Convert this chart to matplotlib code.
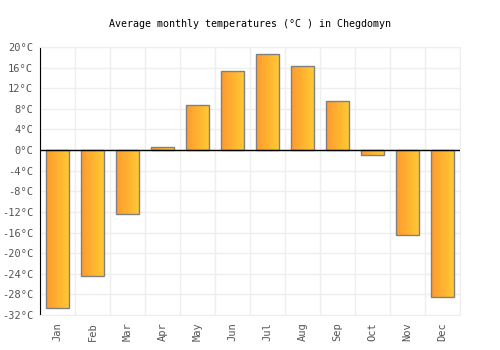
import numpy as np
import matplotlib.pyplot as plt
from matplotlib.colors import LinearSegmentedColormap

months = ['Jan', 'Feb', 'Mar', 'Apr', 'May', 'Jun',
          'Jul', 'Aug', 'Sep', 'Oct', 'Nov', 'Dec']
temps = [-30.7, -24.5, -12.5, 0.5, 8.7, 15.3, 18.6, 16.3, 9.5, -1.0, -16.4, -28.6]
yticks = list(range(-32, 21, 4))

plt.rcParams['font.family'] = 'DejaVu Sans Mono'

fig = plt.figure(figsize=(5, 3.5), dpi=100)
ax = fig.add_axes([0.08, 0.1, 0.84, 0.766])

x = np.arange(len(months))
bars = ax.bar(x, temps, width=0.66, facecolor='none', edgecolor='#808080',
              linewidth=1, zorder=3)

cmap = LinearSegmentedColormap.from_list('orange', ['#ff9a2e', '#ffcb34'])
grad = np.linspace(0, 1, 64).reshape(1, -1)
for b in bars:
    x0, y0 = b.get_x(), b.get_y()
    w, h = b.get_width(), b.get_height()
    im = ax.imshow(grad, cmap=cmap, extent=[x0, x0 + w, y0, y0 + h],
                   aspect='auto', zorder=2, interpolation='bicubic')
    im.set_clip_path(b)

ax.set_xlim(-0.5, len(months) - 0.5)
ax.set_ylim(-32, 20)
ax.set_xticks(x)
ax.set_xticklabels(months, rotation=90)
ax.set_yticks(yticks)
ax.set_yticklabels([f'{t}°C' for t in yticks])
ax.set_xticks(np.arange(-0.5, len(months), 1), minor=True)

ax.grid(True, which='minor', axis='x', color='#eeeeee', linewidth=1, zorder=0)
ax.grid(True, which='major', axis='y', color='#eeeeee', linewidth=1, zorder=0)
ax.tick_params(axis='both', which='both', length=0, labelsize=7.5,
               labelcolor='#555555', pad=5)
ax.set_axisbelow(True)

for s in ['top', 'right', 'bottom']:
    ax.spines[s].set_color('#eeeeee')
ax.spines['left'].set_color('black')
ax.axhline(0, color='black', linewidth=1, zorder=4)

fig.text(0.5, 0.931, 'Average monthly temperatures (°C ) in Chegdomyn',
         ha='center', va='center', fontsize=7.2)

fig.savefig('out.png')
